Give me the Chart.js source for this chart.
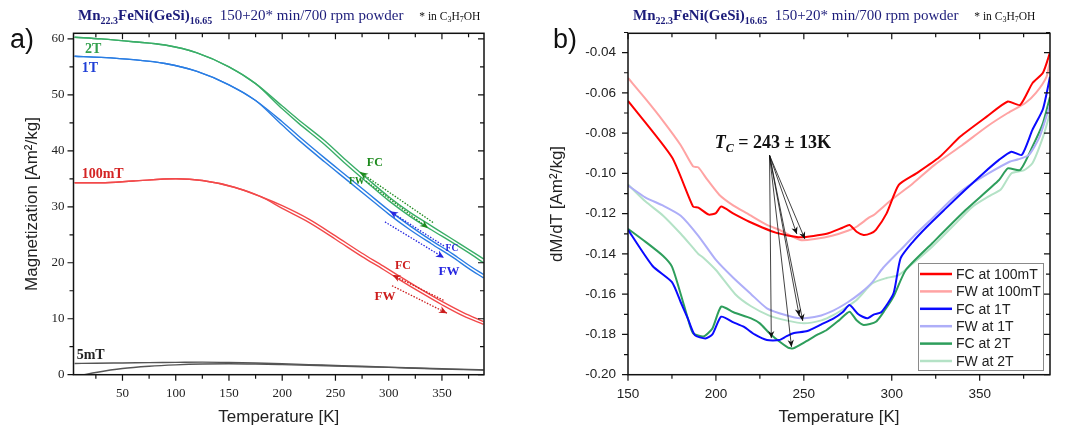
<!DOCTYPE html>
<html lang="en">
<head>
<meta charset="UTF-8">
<title>Mn22.3FeNi(GeSi)16.65 M(T) and dM/dT</title>
<script src="https://cdn.jsdelivr.net/npm/chart.js/dist/chart.umd.min.js"></script>
<style>
body { margin: 0; background: #fff; width: 1066px; height: 432px; overflow: hidden; position: relative; }
.panel { position: absolute; top: 0; }
#chartA { left: 0; }
#chartB { left: 540px; }
.title { position: absolute; top: 6px; font-family: "Liberation Serif", serif; font-size: 15px; line-height: 18px; color: #1c1c7a; white-space: nowrap; }
.title sub { font-size: 10px; vertical-align: -4px; line-height: 0; }
.title .small { font-size: 11.5px; color: #111; margin-left: 12px; }
.title .small sub { font-size: 8px; vertical-align: -2px; }
.tag { position: absolute; top: 24px; font-family: "Liberation Sans", Arial, sans-serif; font-size: 27px; line-height: 30px; color: #111; }
</style>
</head>
<body>
<canvas id="chartA" class="panel" width="540" height="432"></canvas>
<canvas id="chartB" class="panel" width="526" height="432"></canvas>

<div class="tag" style="left:10px">a)</div>
<div class="tag" style="left:553px">b)</div>
<div class="title" style="left:78px"><b>Mn<sub>22.3</sub>FeNi(GeSi)<sub>16.65</sub></b>&nbsp; 150+20* min/700 rpm powder <span class="small">* in C<sub>3</sub>H<sub>7</sub>OH</span></div>
<div class="title" style="left:633px"><b>Mn<sub>22.3</sub>FeNi(GeSi)<sub>16.65</sub></b>&nbsp; 150+20* min/700 rpm powder <span class="small">* in C<sub>3</sub>H<sub>7</sub>OH</span></div>

<script>
// ---------- panel a: magnetization vs temperature ----------
const aT = [5, 30, 60, 90, 120, 150, 175, 200, 215, 240, 260, 280, 300, 320, 340, 360, 375, 389];
const a2tFC = [60.3, 60.0, 59.5, 58.9, 57.5, 55.0, 52.0, 48.0, 45.6, 41.8, 38.3, 35.0, 31.8, 29.0, 26.6, 24.2, 22.4, 20.7];
const a2tFW = [60.3, 60.0, 59.5, 58.9, 57.5, 55.0, 52.0, 47.5, 45.0, 41.1, 37.6, 34.3, 31.1, 28.3, 25.9, 23.6, 21.8, 20.0];
const a1tFC = [56.9, 56.7, 56.3, 55.6, 54.2, 51.8, 49.0, 45.2, 42.7, 38.7, 35.6, 32.5, 29.4, 26.6, 24.0, 21.6, 19.6, 17.9];
const a1tFW = [56.9, 56.7, 56.3, 55.6, 54.2, 51.8, 49.0, 44.6, 42.0, 38.0, 34.9, 31.8, 28.7, 25.9, 23.4, 21.0, 19.0, 17.3];
const aTr = [5, 30, 60, 100, 125, 155, 180, 200, 225, 250, 275, 295, 310, 330, 350, 370, 389];
const a100FC = [34.3, 34.3, 34.6, 35.0, 34.7, 33.5, 31.8, 30.2, 27.8, 24.8, 21.7, 19.4, 17.6, 15.3, 13.1, 11.1, 9.5];
const a100FW = [34.3, 34.3, 34.6, 35.0, 34.7, 33.5, 31.8, 29.7, 27.2, 24.2, 21.1, 18.8, 17.0, 14.7, 12.5, 10.5, 9.0];
const a5T = [5, 25, 50, 75, 100, 125, 150, 175, 200, 225, 250, 275, 300, 325, 350, 375, 389];
const a5FC = [2.0, 2.05, 2.1, 2.15, 2.2, 2.25, 2.2, 2.1, 1.95, 1.8, 1.65, 1.5, 1.35, 1.2, 1.05, 0.92, 0.85];
const a5zT = [14, 25, 50, 75, 100, 125, 150, 175, 200, 225, 250, 275, 300, 325, 350, 375, 389];
const a5ZFC = [0, 0.4, 1.1, 1.5, 1.75, 1.9, 1.95, 1.9, 1.8, 1.68, 1.55, 1.42, 1.3, 1.15, 1.0, 0.9, 0.85];

const aXTicks = [50, 100, 150, 200, 250, 300, 350];
const aXMinor = [25, 75, 125, 175, 225, 275, 325, 375];
const aYTicks = [0, 10, 20, 30, 40, 50, 60];
const aYMinor = [5, 15, 25, 35, 45, 55];

// ---------- panel b: dM/dT ----------
const bFC100T = [150, 175, 187, 190, 196, 200, 203, 210, 219, 234, 248, 263, 272, 276, 280, 284, 288, 291, 297, 304, 314, 327, 339, 354, 366, 373, 380, 386, 390];
const bFC100 = [-0.064, -0.092, -0.1165, -0.117, -0.1205, -0.1197, -0.1165, -0.120, -0.124, -0.1294, -0.1317, -0.130, -0.127, -0.1256, -0.129, -0.1306, -0.1298, -0.128, -0.120, -0.1057, -0.100, -0.092, -0.0817, -0.0718, -0.0643, -0.066, -0.0552, -0.050, -0.040];
const bFW100T = [150, 160, 170, 180, 187, 190, 195, 202, 210, 218, 229, 236, 248, 257, 266, 275, 280, 287, 290, 300, 312, 324, 340, 354, 366, 376, 382, 388, 390];
const bFW100 = [-0.0526, -0.063, -0.074, -0.086, -0.0965, -0.097, -0.103, -0.1107, -0.116, -0.120, -0.1256, -0.128, -0.1331, -0.1325, -0.131, -0.1285, -0.1265, -0.122, -0.1205, -0.113, -0.105, -0.096, -0.086, -0.0768, -0.070, -0.065, -0.060, -0.052, -0.044];
const bFC1T = [150, 164, 175, 180, 184, 188, 194, 198, 203, 210, 216, 222, 229, 236, 240, 244, 252, 260, 267, 272, 276, 281, 286, 290, 294, 301, 305, 312, 320, 330, 342, 352, 361, 368, 374, 380, 386, 390];
const bFC1 = [-0.128, -0.146, -0.154, -0.164, -0.172, -0.1803, -0.182, -0.180, -0.1712, -0.174, -0.1763, -0.180, -0.1828, -0.1828, -0.181, -0.1794, -0.1783, -0.175, -0.172, -0.169, -0.1654, -0.170, -0.172, -0.170, -0.169, -0.1596, -0.1422, -0.134, -0.1265, -0.118, -0.108, -0.100, -0.0933, -0.0892, -0.0908, -0.0784, -0.068, -0.052];
const bFW1T = [150, 160, 170, 180, 190, 200, 210, 220, 229, 240, 248, 258, 267, 275, 282, 289, 295, 305, 315, 324, 334, 343, 355, 367, 372, 378, 384, 390];
const bFW1 = [-0.106, -0.112, -0.116, -0.121, -0.131, -0.143, -0.152, -0.160, -0.167, -0.1705, -0.172, -0.171, -0.168, -0.164, -0.1596, -0.154, -0.147, -0.138, -0.129, -0.1215, -0.113, -0.1066, -0.100, -0.0942, -0.093, -0.0908, -0.082, -0.066];
const bFC2T = [150, 160, 170, 175, 180, 184, 187, 193, 198, 203, 210, 220, 225, 230, 235, 241, 244, 251, 258, 263, 270, 276, 280, 284, 291, 296, 301, 308, 323, 342, 361, 366, 373, 380, 386, 390];
const bFC2 = [-0.1275, -0.134, -0.141, -0.1463, -0.160, -0.172, -0.1794, -0.181, -0.177, -0.1662, -0.169, -0.172, -0.1745, -0.179, -0.1828, -0.1865, -0.1869, -0.1836, -0.180, -0.1778, -0.173, -0.1687, -0.173, -0.1753, -0.1737, -0.168, -0.1612, -0.148, -0.1347, -0.1182, -0.1033, -0.0975, -0.0983, -0.0867, -0.075, -0.062];
const bFW2T = [150, 160, 170, 180, 187, 190, 193, 200, 211, 220, 230, 240, 250, 260, 267, 275, 280, 289, 297, 304, 313, 323, 335, 346, 356, 362, 368, 375, 380, 386, 390];
const bFW2 = [-0.1055, -0.114, -0.121, -0.130, -0.137, -0.140, -0.142, -0.148, -0.160, -0.166, -0.1705, -0.173, -0.1745, -0.173, -0.1703, -0.166, -0.1629, -0.1546, -0.152, -0.1505, -0.144, -0.1364, -0.126, -0.1165, -0.111, -0.108, -0.100, -0.0985, -0.095, -0.082, -0.070];

const bXTicks = [150, 200, 250, 300, 350];
const bXMinor = [175, 225, 275, 325, 375];
const bYTicks = [-0.20, -0.18, -0.16, -0.14, -0.12, -0.10, -0.08, -0.06, -0.04];
const bYMinor = [-0.19, -0.17, -0.15, -0.13, -0.11, -0.09, -0.07, -0.05, -0.03];

// T_C arrows: start point and arrow tips, in data units
const tcFrom = [230.5, -0.091];
const tcTips = [[246, -0.1301], [250.6, -0.1326], [247.4, -0.1708], [249.4, -0.1733], [231.5, -0.1818], [243, -0.1862]];

const pts = (xs, ys) => xs.map((x, i) => ({ x: x, y: ys[i] }));

const SANS = '"Liberation Sans", Arial, sans-serif';
const SERIF = '"Liberation Serif", "Times New Roman", serif';

// frame with outward ticks on bottom/left and inward ticks on top/right
const framePlugin = {
    id: 'frame',
    afterDatasetsDraw(chart, args, o) {
        const { ctx, chartArea: a, scales: { x, y } } = chart;
        ctx.save();
        ctx.strokeStyle = '#111';
        ctx.lineWidth = 1.5;
        ctx.strokeRect(a.left, a.top, a.right - a.left, a.bottom - a.top);
        ctx.lineWidth = 1.2;
        ctx.beginPath();
        const xt = (vals, len) => vals.forEach(v => {
            const p = x.getPixelForValue(v);
            ctx.moveTo(p, a.bottom); ctx.lineTo(p, a.bottom + len);
            ctx.moveTo(p, a.top); ctx.lineTo(p, a.top + len);
        });
        const yt = (vals, len) => vals.forEach(v => {
            const p = y.getPixelForValue(v);
            ctx.moveTo(a.left, p); ctx.lineTo(a.left - len, p);
            ctx.moveTo(a.right, p); ctx.lineTo(a.right - len, p);
        });
        xt(o.xMajor, 6); xt(o.xMinor, 4);
        yt(o.yMajor, 6); yt(o.yMinor, 4);
        ctx.stroke();
        ctx.restore();
    }
};

function arrow(ctx, x1, y1, x2, y2, color, dotted, head) {
    ctx.save();
    ctx.strokeStyle = color;
    ctx.fillStyle = color;
    ctx.lineWidth = dotted ? 1.3 : 0.8;
    if (dotted) ctx.setLineDash([1.5, 1.5]);
    ctx.beginPath(); ctx.moveTo(x1, y1); ctx.lineTo(x2, y2); ctx.stroke();
    ctx.setLineDash([]);
    const ang = Math.atan2(y2 - y1, x2 - x1);
    ctx.translate(x2, y2); ctx.rotate(ang);
    ctx.beginPath(); ctx.moveTo(0, 0); ctx.lineTo(-head, -head * 0.45); ctx.lineTo(-head * 0.7, 0); ctx.lineTo(-head, head * 0.45); ctx.closePath(); ctx.fill();
    ctx.restore();
}

const aNotes = [
    { text: '2T', x: 14.8, y: 57.5, color: '#33a04e', size: 14 },
    { text: '1T', x: 11.7, y: 54.1, color: '#1f3fd6', size: 14 },
    { text: '100mT', x: 11.7, y: 35.1, color: '#d42424', size: 14 },
    { text: '5mT', x: 7, y: 2.75, color: '#222', size: 14 },
    { text: 'FC', x: 287, y: 37.8, color: '#1d8a1d', size: 12, center: true },
    { text: 'FW', x: 270, y: 34.6, color: '#1d8a1d', size: 9.5, center: true },
    { text: 'FC', x: 359.4, y: 22.6, color: '#2626e0', size: 9.5, center: true },
    { text: 'FW', x: 356.6, y: 18.5, color: '#2626e0', size: 13, center: true },
    { text: 'FC', x: 313.4, y: 19.4, color: '#cc1c1c', size: 12, center: true },
    { text: 'FW', x: 296.5, y: 13.9, color: '#cc1c1c', size: 13, center: true }
];
const aArrows = [
    { from: [341.6, 27.2], to: [273, 36.2], color: '#1d8a1d' },
    { from: [278.7, 34.6], to: [336.9, 26.2], color: '#1d8a1d' },
    { from: [351.9, 23.0], to: [301.2, 29.2], color: '#2626e0' },
    { from: [296.5, 27.3], to: [351.9, 20.9], color: '#2626e0' },
    { from: [351.5, 13.3], to: [303.6, 17.8], color: '#cc1c1c' },
    { from: [303.1, 15.9], to: [354.7, 11.0], color: '#cc1c1c' }
];

const notesA = {
    id: 'notesA',
    afterDatasetsDraw(chart) {
        const { ctx, scales: { x, y } } = chart;
        aArrows.forEach(a => arrow(ctx, x.getPixelForValue(a.from[0]), y.getPixelForValue(a.from[1]),
            x.getPixelForValue(a.to[0]), y.getPixelForValue(a.to[1]), a.color, true, 8));
        ctx.save();
        aNotes.forEach(n => {
            ctx.font = 'bold ' + n.size + 'px ' + SERIF;
            ctx.fillStyle = n.color;
            ctx.textAlign = n.center ? 'center' : 'left';
            ctx.textBaseline = n.center ? 'middle' : 'alphabetic';
            ctx.fillText(n.text, x.getPixelForValue(n.x), y.getPixelForValue(n.y));
        });
        ctx.restore();
    }
};

const notesB = {
    id: 'notesB',
    afterDatasetsDraw(chart) {
        const { ctx, scales: { x, y }, chartArea: a } = chart;
        const fx = x.getPixelForValue(tcFrom[0]), fy = y.getPixelForValue(tcFrom[1]);
        tcTips.forEach(t => arrow(ctx, fx, fy, x.getPixelForValue(t[0]), y.getPixelForValue(t[1]), '#111', false, 7));
        // T_C label
        ctx.save();
        ctx.fillStyle = '#111';
        ctx.textBaseline = 'alphabetic';
        let px = x.getPixelForValue(199.4);
        const py = y.getPixelForValue(-0.0874);
        ctx.font = 'italic bold 18px ' + SERIF;
        ctx.fillText('T', px, py); px += ctx.measureText('T').width;
        ctx.font = 'italic bold 12px ' + SERIF;
        ctx.fillText('C', px, py + 4); px += ctx.measureText('C').width;
        ctx.font = 'bold 18px ' + SERIF;
        ctx.fillText(' = 243 \u00b1 13K', px, py);
        // legend box, bottom right of the plot area
        const ds = chart.data.datasets;
        const w = 125, h = 107, x0 = a.right - 7 - w, y0 = a.bottom - 4.7 - h;
        ctx.fillStyle = '#fff';
        ctx.fillRect(x0, y0, w, h);
        ctx.strokeStyle = '#8a8a8a';
        ctx.lineWidth = 1;
        ctx.strokeRect(x0 + 0.5, y0 + 0.5, w, h);
        ctx.font = '14px ' + SANS;
        ctx.textBaseline = 'middle';
        ds.forEach((d, i) => {
            const ry = y0 + 11 + i * 17.4;
            ctx.strokeStyle = d.borderColor;
            ctx.lineWidth = 2.5;
            ctx.beginPath(); ctx.moveTo(x0 + 2, ry); ctx.lineTo(x0 + 34, ry); ctx.stroke();
            ctx.fillStyle = '#222';
            ctx.fillText(d.label, x0 + 38, ry + 1);
        });
        ctx.restore();
    }
};

function axes(o) {
    return {
        x: {
            type: 'linear', min: o.xmin, max: o.xmax,
            afterBuildTicks: s => { s.ticks = o.xTicks.map(v => ({ value: v })); },
            afterFit: s => { s.height = 57.3; },
            grid: { display: false, drawTicks: true, tickLength: 6 },
            border: { display: false },
            ticks: { font: { family: o.tickFont, size: o.tickSize }, color: '#222', padding: 5, maxRotation: 0, autoSkip: false },
            title: { display: true, text: 'Temperature [K]', font: { family: SANS, size: 17 }, color: '#222', padding: { top: 0, bottom: 4 } }
        },
        y: {
            type: 'linear', min: o.ymin, max: o.ymax,
            afterBuildTicks: s => { s.ticks = o.yTicks.map(v => ({ value: v })); },
            afterFit: s => { s.width = o.yWidth; },
            grid: { display: false, drawTicks: true, tickLength: 6 },
            border: { display: false },
            ticks: { font: { family: o.tickFont, size: o.tickSize }, color: '#222', padding: o.yPad, autoSkip: false, callback: o.fmt },
            title: { display: true, text: o.yTitle, font: { family: SANS, size: 17 }, color: '#222', padding: { top: o.yTitlePad, bottom: 0 } }
        }
    };
}

const lineA = (data, color) => ({ data: data, borderColor: color, borderWidth: 1.4, pointRadius: 0, tension: 0.4, cubicInterpolationMode: 'monotone', fill: false });

new Chart(document.getElementById('chartA'), {
    type: 'line',
    data: {
        datasets: [
            lineA(pts(aT, a2tFC), '#3aae68'),
            lineA(pts(aT, a2tFW), '#3aae68'),
            lineA(pts(aT, a1tFC), '#2a7de3'),
            lineA(pts(aT, a1tFW), '#2a7de3'),
            lineA(pts(aTr, a100FC), '#f2494a'),
            lineA(pts(aTr, a100FW), '#f2494a'),
            lineA(pts(a5T, a5FC), '#555'),
            lineA(pts(a5zT, a5ZFC), '#555')
        ]
    },
    options: {
        responsive: false, animation: false, events: [],
        layout: { padding: { left: 0, top: 33.3, right: 56, bottom: 0 } },
        scales: axes({
            xmin: 4, xmax: 389.5, xTicks: aXTicks, ymin: 0, ymax: 61, yTicks: aYTicks,
            tickFont: SERIF, tickSize: 13, yWidth: 73.5, yPad: 3, yTitlePad: 22,
            yTitle: 'Magnetization [Am\u00b2/kg]', fmt: v => String(v)
        }),
        plugins: {
            legend: { display: false }, tooltip: { enabled: false },
            frame: { xMajor: aXTicks, xMinor: aXMinor, yMajor: aYTicks, yMinor: aYMinor }
        }
    },
    plugins: [framePlugin, notesA]
});

const lineB = (label, data, color) => ({ label: label, data: data, borderColor: color, borderWidth: 2, pointRadius: 0, tension: 0.2, fill: false });

new Chart(document.getElementById('chartB'), {
    type: 'line',
    data: {
        datasets: [
            lineB('FC at 100mT', pts(bFC100T, bFC100), '#ff0000'),
            lineB('FW at 100mT', pts(bFW100T, bFW100), '#ffa3a3'),
            lineB('FC at 1T', pts(bFC1T, bFC1), '#0a0aff'),
            lineB('FW at 1T', pts(bFW1T, bFW1), '#aeaef8'),
            lineB('FC at 2T', pts(bFC2T, bFC2), '#2e9e5c'),
            lineB('FW at 2T', pts(bFW2T, bFW2), '#b4e2c6')
        ]
    },
    options: {
        responsive: false, animation: false, events: [],
        layout: { padding: { left: 0, top: 33.3, right: 16, bottom: 0 } },
        scales: axes({
            xmin: 150, xmax: 390, xTicks: bXTicks, ymin: -0.2, ymax: -0.0304, yTicks: bYTicks,
            tickFont: SANS, tickSize: 13.5, yWidth: 88, yPad: 6, yTitlePad: 7,
            yTitle: 'dM/dT [Am\u00b2/kg]', fmt: v => v.toFixed(2)
        }),
        plugins: {
            legend: { display: false }, tooltip: { enabled: false },
            frame: { xMajor: bXTicks, xMinor: bXMinor, yMajor: bYTicks, yMinor: bYMinor }
        }
    },
    plugins: [framePlugin, notesB]
});
</script>
</body>
</html>
